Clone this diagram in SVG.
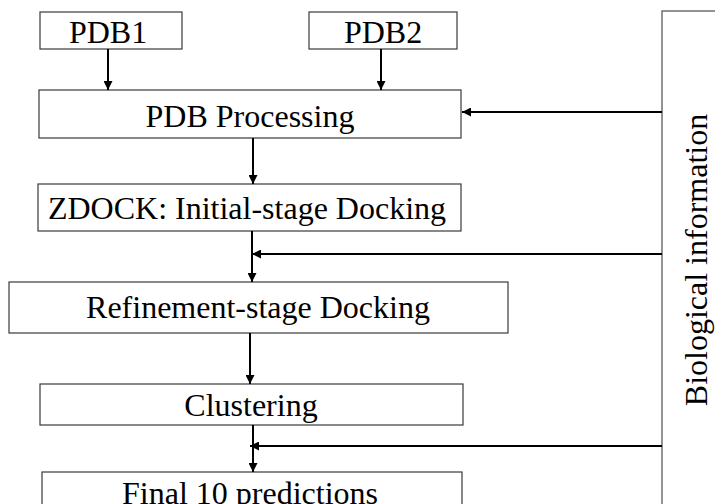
<svg xmlns="http://www.w3.org/2000/svg" width="715" height="504" viewBox="0 0 715 504">
<style>
.box{fill:#fff;stroke:#3a3a3a;stroke-width:1.2}
.bio{fill:#fff;stroke:#707070;stroke-width:1.5}
.t{font-family:"Liberation Serif","Times New Roman",serif;font-size:32px;fill:#000;text-anchor:middle}
.c{stroke:#000;stroke-width:2;fill:none}
</style>
<defs>
<marker id="ah" viewBox="0 0 10 10" refX="10" refY="5" markerWidth="4.5" markerHeight="4.5" orient="auto" markerUnits="strokeWidth">
<path d="M0,0 L10,5 L0,10 z" fill="#000"/>
</marker>
</defs>
<rect width="715" height="504" fill="#fff"/>
<g id="bio">
<rect class="bio" x="662" y="11" width="120" height="520"/>
<text class="t" transform="translate(707,260) rotate(-90)">Biological information</text>
</g>
<g id="pdb1">
<rect class="box" x="40" y="12" width="142" height="37"/>
<text class="t" x="108" y="43">PDB1</text>
</g>
<g id="pdb2">
<rect class="box" x="309" y="12" width="148" height="37"/>
<text class="t" x="383" y="43">PDB2</text>
</g>
<g id="proc">
<rect class="box" x="39" y="90" width="422" height="48"/>
<text class="t" x="250" y="127">PDB Processing</text>
</g>
<g id="zdock">
<rect class="box" x="38" y="184" width="423" height="47"/>
<text class="t" x="247" y="219">ZDOCK: Initial-stage Docking</text>
</g>
<g id="refine">
<rect class="box" x="9" y="282" width="499" height="51"/>
<text class="t" x="258" y="318">Refinement-stage Docking</text>
</g>
<g id="cluster">
<rect class="box" x="40" y="384" width="423" height="41"/>
<text class="t" x="251" y="416">Clustering</text>
</g>
<g id="final">
<rect class="box" x="42" y="472" width="420" height="60"/>
<text class="t" x="250" y="504">Final 10 predictions</text>
</g>
<g id="connectors">
<line class="c" x1="108" y1="49" x2="108" y2="90" marker-end="url(#ah)"/>
<line class="c" x1="381" y1="49" x2="381" y2="90" marker-end="url(#ah)"/>
<line class="c" x1="662" y1="112" x2="462" y2="112" marker-end="url(#ah)"/>
<line class="c" x1="253" y1="138" x2="253" y2="184" marker-end="url(#ah)"/>
<line class="c" x1="252" y1="231" x2="252" y2="282" marker-end="url(#ah)"/>
<line class="c" x1="662" y1="254" x2="252" y2="254" marker-end="url(#ah)"/>
<line class="c" x1="250" y1="333" x2="250" y2="384" marker-end="url(#ah)"/>
<line class="c" x1="253" y1="425" x2="253" y2="472" marker-end="url(#ah)"/>
<line class="c" x1="662" y1="446" x2="250" y2="446" marker-end="url(#ah)"/>
</g>
</svg>
